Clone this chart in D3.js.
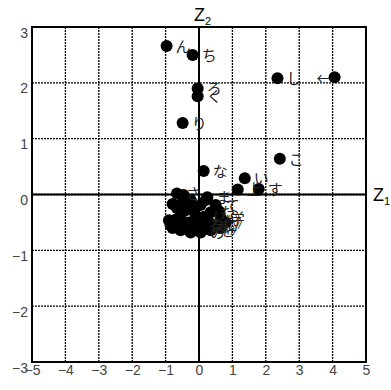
<!DOCTYPE html>
<html>
<head>
<meta charset="utf-8">
<script src="https://cdn.jsdelivr.net/npm/d3@7"></script>
<style>
  body { margin: 0; background: #fff; }
  svg { display: block; }
  .tick text { font-family: "Liberation Sans", Arial, sans-serif; font-size: 14px; fill: #444; }
  .lbl { font-family: "Noto Sans CJK JP", sans-serif; font-size: 15px; fill: #222; }
</style>
</head>
<body>
<svg id="chart"></svg>
<script>
// set canvas size
const W = 391, H = 390;
const margin = {top: 27, right: 25, bottom: 28, left: 32},
    width = W - margin.left - margin.right,
    height = H - margin.top - margin.bottom;

// tick values
var xTicks = [-5, -4, -3, -2, -1, 0, 1, 2, 3, 4, 5];
var yTicks = [-3, -2, -1, 0, 1, 2, 3];

// labelled points (z1, z2, label)
var ptX   = [-0.97, -0.19, -0.04, -0.04, -0.49, 2.35, 4.06, 2.42, 0.14, 1.37, 1.16, 1.79];
var ptY   = [ 2.66,  2.50,  1.90,  1.76,  1.28, 2.08, 2.10, 0.64, 0.42, 0.29, 0.09, 0.10];
var ptLbl = ["ん", "ち", "ろ", "く", "り", "し　←", "", "こ", "な", "い", "上", "す"];

// dense cluster near the origin
var clX = [-0.66, -0.46, -0.79, -0.90, -0.79, -0.55, -0.25, 0.05, 0.35, 0.65, -0.40, -0.10,
            0.25,  0.05,  0.35,  0.65, -0.55, -0.25, -0.30, 0.00, 0.30, -0.66, 0.50, 0.80,
           -0.85, -0.70, -0.15,  0.15, -0.50,  0.45, -0.05, 0.20, -0.35, 0.60, -0.60, 0.10];
var clY = [ 0.02, -0.01, -0.17, -0.46, -0.60, -0.64, -0.68, -0.68, -0.64, -0.60, -0.28, -0.37,
           -0.05, -0.19, -0.32, -0.42, -0.37, -0.10, -0.50, -0.55, -0.50, -0.24, -0.19, -0.50,
           -0.55, -0.45, -0.25, -0.40, -0.15, -0.55, -0.62, -0.10, -0.60, -0.30, -0.52, -0.58];
var clLbl = ["さ", "", "", "", "", "", "", "の", "を", "》", "", "",
             "ま", "", "た", "学", "", "", "", "る", "《", "", "て", "》",
             "", "", "", "に", "", "に", "", "", "", "", "", "は"];

var svg = d3.select("#chart")
    .attr("width", W)
    .attr("height", H)
  .append("g")
    .attr("transform", "translate(" + margin.left + "," + margin.top + ")");

var xScale = d3.scaleLinear().domain([-5, 5]).range([0, width]),
    yScale = d3.scaleLinear().domain([-3, 3]).range([height, 0]);

// dotted grid
svg.append("g").selectAll("line").data(xTicks.slice(1, -1)).enter().append("line")
    .attr("x1", d => xScale(d)).attr("x2", d => xScale(d))
    .attr("y1", 0).attr("y2", height)
    .attr("stroke", "#000").attr("stroke-width", 1.3).attr("stroke-dasharray", "2,1");
svg.append("g").selectAll("line").data(yTicks.slice(1, -1)).enter().append("line")
    .attr("y1", d => yScale(d)).attr("y2", d => yScale(d))
    .attr("x1", 0).attr("x2", width)
    .attr("stroke", "#000").attr("stroke-width", 1.3).attr("stroke-dasharray", "2,1");

// axes at zero
svg.append("line").attr("x1", xScale(0)).attr("x2", xScale(0)).attr("y1", 0).attr("y2", height)
    .attr("stroke", "#000").attr("stroke-width", 2);
svg.append("line").attr("y1", yScale(0)).attr("y2", yScale(0)).attr("x1", 0).attr("x2", width)
    .attr("stroke", "#000").attr("stroke-width", 2);

// frame
svg.append("rect").attr("x", 0).attr("y", 0).attr("width", width).attr("height", height)
    .attr("fill", "none").attr("stroke", "#000").attr("stroke-width", 2);

// tick labels
var xAxis = d3.axisBottom(xScale).tickValues(xTicks).tickSize(0).tickPadding(3)
    .tickFormat(d => d < 0 ? "\u2212" + (-d) : d);
svg.append("g").attr("transform", "translate(0," + height + ")").call(xAxis)
    .call(g => g.select(".domain").remove());
var yAxis = d3.axisLeft(yScale).tickValues(yTicks).tickSize(0).tickPadding(4)
    .tickFormat(d => d < 0 ? "\u2212" + (-d) : d);
svg.append("g").call(yAxis)
    .call(g => g.select(".domain").remove())
    .call(g => g.selectAll("text").attr("dy", "0.72em"));

// axis names
var zt = svg.append("text").attr("x", xScale(0) - 5).attr("y", -6)
    .style("font-family", "Liberation Sans, Arial, sans-serif").style("font-size", "18px");
zt.append("tspan").text("Z");
zt.append("tspan").attr("dy", 4).style("font-size", "11px").text("2");
var zr = svg.append("text").attr("x", width + 7).attr("y", yScale(0) + 6)
    .style("font-family", "Liberation Sans, Arial, sans-serif").style("font-size", "18px");
zr.append("tspan").text("Z");
zr.append("tspan").attr("dy", 4).style("font-size", "11px").text("1");

// points
var pts = ptX.map((d, i) => ({x: d, y: ptY[i], l: ptLbl[i]}))
    .concat(clX.map((d, i) => ({x: d, y: clY[i], l: clLbl[i]})));

svg.append("g").selectAll("circle").data(pts).enter().append("circle")
    .attr("cx", d => xScale(d.x)).attr("cy", d => yScale(d.y))
    .attr("r", 6).attr("fill", "#000");

svg.append("g").selectAll("text").data(pts.filter(d => d.l)).enter().append("text")
    .attr("class", "lbl")
    .attr("x", d => xScale(d.x) + 9).attr("y", d => yScale(d.y) + 6)
    .text(d => d.l);
</script>
</body>
</html>
